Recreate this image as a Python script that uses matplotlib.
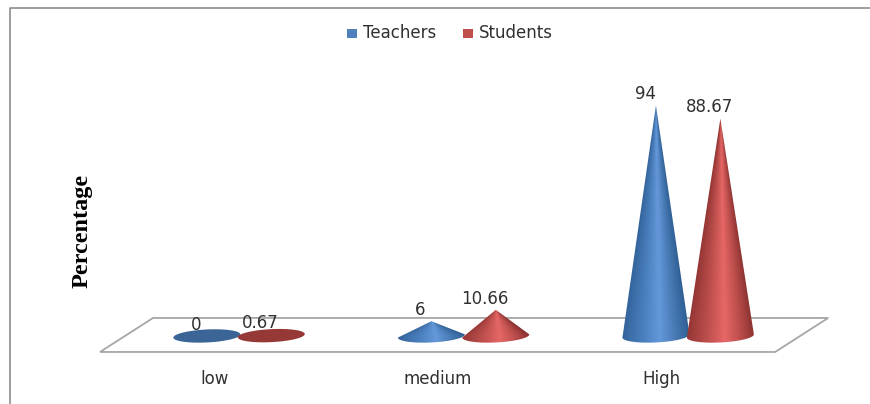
#Grouped cone chart: teachers vs students by level
import numpy as np
import matplotlib
matplotlib.use("Agg")
import matplotlib.pyplot as plt
from matplotlib.colors import LinearSegmentedColormap
from matplotlib.patches import Polygon

categories = ["low", "medium", "High"]
teachers = [0, 6, 94]
students = [0.67, 10.66, 88.67]
value_labels_t = ["0", "6", "94"]
value_labels_s = ["0.67", "10.66", "88.67"]

W, H = 870, 404
BASE_PX = 336          # pixel row of value 0
PX_PER_UNIT = 2.45
CAT_STEP = 224.5       # pixels between categories
CAT0_PX = 239          # pixel column of first category
CONE_OFFSET = 32.2 / CAT_STEP
RX = 33.5 / CAT_STEP   # base half width in category units
RY = 6.5 / PX_PER_UNIT # base half height in value units
TILT = 1.6 / PX_PER_UNIT

# the small extra keeps the saved width from rounding down a pixel
fig = plt.figure(figsize=((W + 0.2) / 100, (H + 0.2) / 100), dpi=100)
ax = fig.add_axes([0, 0, 1, 1])
ax.axis("off")


def px(x, y):
    return ((x - CAT0_PX) / CAT_STEP, (BASE_PX - y) / PX_PER_UNIT)


# chart border, only left and top are inside the frame
ax.plot(*zip(px(9.5, 404), px(9.5, 8.5), px(870, 8.5)),
        color="#8c8c8c", lw=1.2, clip_on=False)

# floor of the 3d plot
floor = Polygon([px(100, 352), px(153, 318), px(828, 318), px(775, 352)],
                closed=True, fill=False, edgecolor="#a6a6a6", lw=1.3)
ax.add_patch(floor)

BLUE = ["#33639b", "#4a7fbd", "#6498da", "#4678b2", "#2f5f94"]
RED = ["#953735", "#bd4f4d", "#e66766", "#b94c4a", "#8a3230"]
BLUE_FLAT = "#3a6596"
RED_FLAT = "#963836"


def draw_cone(cx, value, colors, flat):
    if value < 1:
        # nearly no height: just the base ellipse seen from above
        t = np.linspace(0, 2 * np.pi, 120)
        ax.add_patch(Polygon(np.c_[cx + RX * np.cos(t),
                                  RY * np.sin(t) + TILT * np.cos(t) + value * 0.2],
                             closed=True, facecolor=flat, edgecolor="none", zorder=3))
        return
    t = np.linspace(0, np.pi, 60)
    xs = cx + RX * np.cos(t)
    ys = -RY * np.sin(t) + TILT * np.cos(t)
    clip = Polygon(np.c_[np.r_[xs, cx], np.r_[ys, value]],
                   closed=True, facecolor="none", edgecolor="none")
    ax.add_patch(clip)
    cmap = LinearSegmentedColormap.from_list(
        "cone", list(zip([0, 0.3, 0.56, 0.8, 1], colors)))
    # shade follows the cone surface, so the bands narrow toward the tip
    gx = np.linspace(cx - RX, cx + RX, 200)
    gy = np.linspace(-RY - 1, value + 1, 400)
    xx, yy = np.meshgrid(gx, gy)
    half = np.maximum(RX * (1 - np.clip(yy, 0, value) / value), 1e-4)
    shade = np.clip(0.5 + (xx - cx) / (2 * half), 0, 1)
    img = ax.imshow(shade, cmap=cmap, origin="lower", vmin=0, vmax=1,
                    extent=[gx[0], gx[-1], gy[0], gy[-1]],
                    aspect="auto", zorder=3)
    img.set_clip_path(clip)


for i in range(len(categories)):
    draw_cone(i - CONE_OFFSET, teachers[i], BLUE, BLUE_FLAT)
    draw_cone(i + CONE_OFFSET, students[i], RED, RED_FLAT)
ax.set_xlim(-CAT0_PX / CAT_STEP, (W - CAT0_PX) / CAT_STEP)
ax.set_ylim((BASE_PX - H) / PX_PER_UNIT, BASE_PX / PX_PER_UNIT)

TXT = "#303030"
FS = 12
for i in range(len(categories)):
    ax.text(i - CONE_OFFSET - 0.048, teachers[i] + 4.7, value_labels_t[i],
            ha="center", va="center", fontsize=FS, color=TXT, zorder=5)
    ax.text(i + CONE_OFFSET - 0.05, students[i] + 4.7, value_labels_s[i],
            ha="center", va="center", fontsize=FS, color=TXT, zorder=5)
    ax.text(*px(214.5 + i * 223.2, 379), categories[i],
            ha="center", va="center", fontsize=FS, color=TXT)

# legend
for lx, name, c in [(347, "Teachers", "#4f81bd"), (463, "Students", "#c0504d")]:
    ax.add_patch(Polygon([px(lx, 29), px(lx + 10, 29), px(lx + 10, 38), px(lx, 38)],
                         closed=True, facecolor=c, edgecolor="none"))
    ax.text(*px(lx + 16, 33), name, ha="left", va="center", fontsize=FS, color=TXT)

ax.text(*px(82, 231), "Percentage", rotation=90, ha="center", va="center",
        family="Liberation Serif", weight="bold", fontsize=17.5, color="black")

fig.savefig("out.png", dpi=100)
